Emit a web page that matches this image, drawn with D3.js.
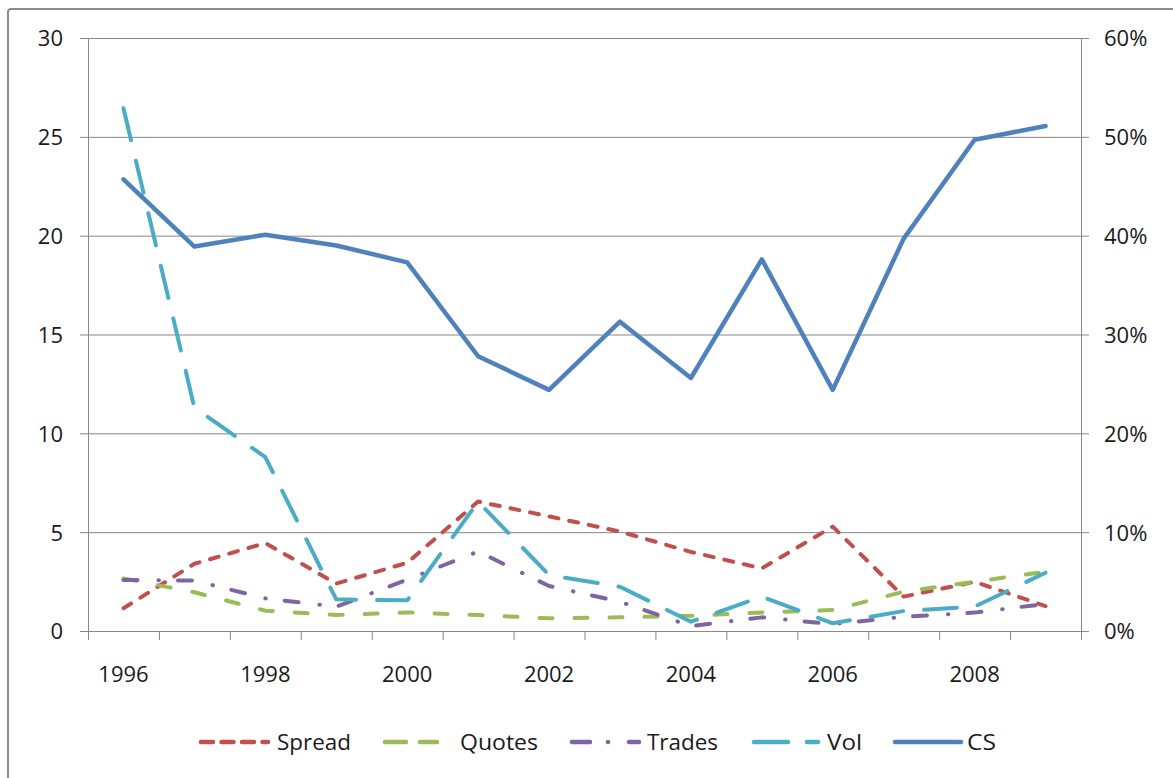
<!DOCTYPE html>
<html>
<head>
<meta charset="utf-8">
<script src="https://cdn.jsdelivr.net/npm/d3@7"></script>
<style>
  body { margin: 0; background: #fff; }
  text { font-family: "Open Sans", "Noto Sans", sans-serif; fill: #1a1a1a; }
</style>
</head>
<body>
<div id="chart"></div>
<script>
// data
var years  = [1996, 1997, 1998, 1999, 2000, 2001, 2002, 2003, 2004, 2005, 2006, 2007, 2008, 2009];
var spread = [1.15, 3.4, 4.45, 2.4, 3.45, 6.55, 5.8, 5.03, 4.0, 3.17, 5.28, 1.74, 2.49, 1.26];
var quotes = [2.66, 1.96, 1.03, 0.81, 0.94, 0.81, 0.64, 0.69, 0.77, 0.94, 1.06, 1.99, 2.49, 3.0];
var trades = [2.58, 2.55, 1.65, 1.23, 2.6, 4.02, 2.28, 1.48, 0.25, 0.69, 0.35, 0.72, 0.93, 1.37];
var vol    = [26.45, 11.3, 8.8, 1.6, 1.55, 6.54, 2.83, 2.24, 0.47, 1.74, 0.39, 1.01, 1.23, 2.95];
var cs     = [0.457, 0.389, 0.401, 0.390, 0.373, 0.278, 0.244, 0.313, 0.256, 0.376, 0.244, 0.397, 0.497, 0.511];

var leftTicks  = [0, 5, 10, 15, 20, 25, 30];
var rightTicks = [0, 0.1, 0.2, 0.3, 0.4, 0.5, 0.6];
var yearLabels = [1996, 1998, 2000, 2002, 2004, 2006, 2008];

var width = 1173;
var height = 778;
var plotL = 88, plotR = 1081, plotT = 38, plotB = 631;
var gridColor = "#878787";

var svg = d3.select("#chart")
    .append("svg")
    .attr("width", width)
    .attr("height", height);

svg.append("rect")
    .attr("width", width)
    .attr("height", height)
    .attr("fill", "#fff");

// outer chart border (cut off at right and bottom)
svg.append("rect")
    .attr("x", 8)
    .attr("y", 9)
    .attr("width", 1200)
    .attr("height", 820)
    .attr("rx", 3)
    .attr("fill", "none")
    .attr("stroke", "#8c8c8c")
    .attr("stroke-width", 2);

// scales
var x = d3.scaleBand()
    .domain(years)
    .range([plotL, plotR]);

var xEdge = d3.scaleLinear()
    .domain([0, years.length])
    .range([plotL, plotR]);

var yLeft = d3.scaleLinear()
    .domain([0, 30])
    .range([plotB, plotT]);

var yRight = d3.scaleLinear()
    .domain([0, 0.6])
    .range([plotB, plotT]);

// gridlines
svg.append("g")
    .attr("class", "grid")
    .attr("transform", "translate(" + plotL + ",0)")
    .call(d3.axisLeft(yLeft).tickValues(leftTicks).tickSize(-(plotR - plotL)).tickFormat(""))
    .call(function (g) { g.select(".domain").remove(); })
    .selectAll("line")
    .attr("stroke", gridColor);

// left axis
var axL = svg.append("g")
    .attr("transform", "translate(" + plotL + ",0)")
    .call(d3.axisLeft(yLeft).tickValues(leftTicks).tickSize(8).tickPadding(17).tickSizeOuter(0));
axL.select(".domain").attr("stroke", gridColor);
axL.selectAll("line").attr("stroke", gridColor);
axL.selectAll("text").style("font-size", "22px").attr("dy", "0.36em").attr("fill", "#1a1a1a");

// right axis
var axR = svg.append("g")
    .attr("transform", "translate(" + plotR + ",0)")
    .call(d3.axisRight(yRight).tickValues(rightTicks).tickSize(8).tickPadding(15)
        .tickSizeOuter(0).tickFormat(d3.format(".0%")));
axR.select(".domain").attr("stroke", gridColor);
axR.selectAll("line").attr("stroke", gridColor);
axR.selectAll("text").style("font-size", "22px").attr("dy", "0.36em").attr("fill", "#1a1a1a");

// bottom axis: tick marks between categories
var axB = svg.append("g")
    .attr("transform", "translate(0," + plotB + ")")
    .call(d3.axisBottom(xEdge).tickValues(d3.range(0, years.length + 1)).tickSize(9).tickFormat("").tickSizeOuter(0));
axB.select(".domain").attr("stroke", gridColor);
axB.selectAll("line").attr("stroke", gridColor);

// bottom axis labels
var axBL = svg.append("g")
    .attr("transform", "translate(0," + plotB + ")")
    .call(d3.axisBottom(x).tickValues(yearLabels).tickSize(0).tickPadding(51));
axBL.select(".domain").remove();
axBL.selectAll("text").style("font-size", "22px").attr("dy", "0").attr("fill", "#1a1a1a");

// series
var series = [
    { name: "Spread", values: spread, color: "#C0504D", dash: "9,11", axis: yLeft, w: 4 },
    { name: "Quotes", values: quotes, color: "#9BBB59", dash: "13,22", axis: yLeft, w: 4 },
    { name: "Trades", values: trades, color: "#8064A2", dash: "14,21,0.5,19", axis: yLeft, w: 4 },
    { name: "Vol",    values: vol,    color: "#4BACC6", dash: "33,21", axis: yLeft, w: 4 },
    { name: "CS",     values: cs,     color: "#4F81BD", dash: null, axis: yRight, w: 4.5 }
];

series.forEach(function (s) {
    var line = d3.line()
        .x(function (d, i) { return x(years[i]) + x.bandwidth() / 2; })
        .y(function (d) { return s.axis(d); });

    svg.append("path")
        .datum(s.values)
        .attr("d", line)
        .attr("fill", "none")
        .attr("stroke", s.color)
        .attr("stroke-width", s.w)
        .attr("stroke-linecap", "round")
        .attr("stroke-linejoin", "round")
        .attr("stroke-dasharray", s.dash);
});

// legend
var legendX = [199, 383, 570, 752, 893];
var legendLineEnd = [69, 54, 69, 66, 68];
var legendDash = ["12,8.5", "21,14", "18,18,0.01,21", "34,19", null];
var legendTextX = [78, 77, 77, 75, 74];
var legendTextW = [74, 78, 71, 35, 29];
var legendY = 742;

var legend = svg.selectAll(".legendItem")
    .data(series)
    .enter()
    .append("g")
    .attr("class", "legendItem")
    .attr("transform", function (d, i) { return "translate(" + legendX[i] + "," + legendY + ")"; });

legend.append("line")
    .attr("x1", 2)
    .attr("x2", function (d, i) { return legendLineEnd[i]; })
    .attr("stroke", function (d) { return d.color; })
    .attr("stroke-width", 4.5)
    .attr("stroke-linecap", "round")
    .attr("stroke-dasharray", function (d, i) { return legendDash[i]; });

legend.append("text")
    .attr("x", function (d, i) { return legendTextX[i]; })
    .attr("dy", "0.36em")
    .attr("textLength", function (d, i) { return legendTextW[i]; })
    .attr("lengthAdjust", "spacingAndGlyphs")
    .style("font-size", "22px")
    .text(function (d) { return d.name; });
</script>
</body>
</html>
